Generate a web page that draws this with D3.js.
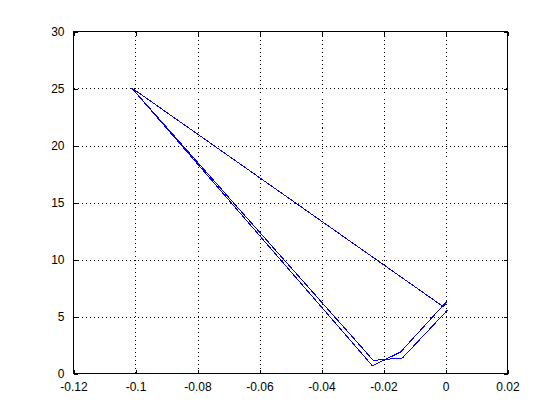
<!DOCTYPE html>
<html><head><meta charset="utf-8">
<script src="https://cdn.jsdelivr.net/npm/d3@7"></script>
<style>html,body{margin:0;padding:0;background:#fff;}svg{display:block;}</style>
</head><body>
<script>
const xTicks = [-0.12, -0.1, -0.08, -0.06, -0.04, -0.02, 0, 0.02];
const xTickLabels = ["-0.12", "-0.1", "-0.08", "-0.06", "-0.04", "-0.02", "0", "0.02"];
const yTicks = [0, 5, 10, 15, 20, 25, 30];
const yTickLabels = ["0", "5", "10", "15", "20", "25", "30"];
const xValues = [0.0006, -0.0139, -0.0233, -0.1013, -0.0236, -0.0145, 0.0005, -0.0006, -0.1013];
const yValues = [5.55, 1.36, 1.15, 25.07, 0.68, 1.88, 6.35, 5.84, 25.07];

const W = 560, H = 420;
const L = 73.5, R = 507.5, T = 31.5, B = 373.5;
const svg = d3.select("body").append("svg").attr("width", W).attr("height", H);
svg.append("rect").attr("width", W).attr("height", H).attr("fill", "#fff");

const x = d3.scaleLinear().domain([-0.12, 0.02]).range([L, R]);
const y = d3.scaleLinear().domain([0, 30]).range([B, T]);

const g = svg.append("g").attr("shape-rendering", "crispEdges");
// grid
g.selectAll(".gx").data(xTicks.slice(1, -1)).enter().append("line")
  .attr("x1", d => Math.round(x(d)) + 0.5).attr("x2", d => Math.round(x(d)) + 0.5)
  .attr("y1", T).attr("y2", B)
  .attr("stroke", "#000").attr("stroke-width", 1).attr("stroke-dasharray", "1,3");
g.selectAll(".gy").data(yTicks.slice(1, -1)).enter().append("line")
  .attr("y1", d => Math.round(y(d)) + 0.5).attr("y2", d => Math.round(y(d)) + 0.5)
  .attr("x1", L).attr("x2", R)
  .attr("stroke", "#000").attr("stroke-width", 1).attr("stroke-dasharray", "1,3");

// data line
const pts = xValues.map((v, i) => [v, yValues[i]]);
svg.append("path").datum(pts)
  .attr("d", d3.line().x(d => x(d[0])).y(d => y(d[1])))
  .attr("fill", "none").attr("stroke", "#0000ff").attr("stroke-width", 1)
  .attr("shape-rendering", "crispEdges");

// box
g.append("rect").attr("x", L).attr("y", T).attr("width", R - L).attr("height", B - T)
  .attr("fill", "none").attr("stroke", "#000");

// axes with inward ticks
const tl = 4;
const xb = d3.axisBottom(x).tickValues(xTicks).tickFormat((d, i) => xTickLabels[i]).tickSizeInner(-tl).tickSizeOuter(0).tickPadding(tl + 5);
const xt = d3.axisTop(x).tickValues(xTicks).tickFormat("").tickSizeInner(-tl).tickSizeOuter(0);
const yl = d3.axisLeft(y).tickValues(yTicks).tickFormat((d, i) => yTickLabels[i]).tickSizeInner(-tl).tickSizeOuter(0).tickPadding(tl + 5);
const yr = d3.axisRight(y).tickValues(yTicks).tickFormat("").tickSizeInner(-tl).tickSizeOuter(0);

function style(sel) {
  sel.select(".domain").remove();
  sel.selectAll("line").attr("stroke", "#000").attr("shape-rendering", "crispEdges");
  sel.selectAll("text").attr("fill", "#000").style("font-family", "Arial, 'Liberation Sans', sans-serif").style("font-size", "12px");
}
svg.append("g").attr("transform", `translate(0,${B})`).call(xb).call(style);
svg.append("g").attr("transform", `translate(0,${T})`).call(xt).call(style);
svg.append("g").attr("transform", `translate(${L},0)`).call(yl).call(style);
svg.append("g").attr("transform", `translate(${R},0)`).call(yr).call(style);
</script>
</body></html>
